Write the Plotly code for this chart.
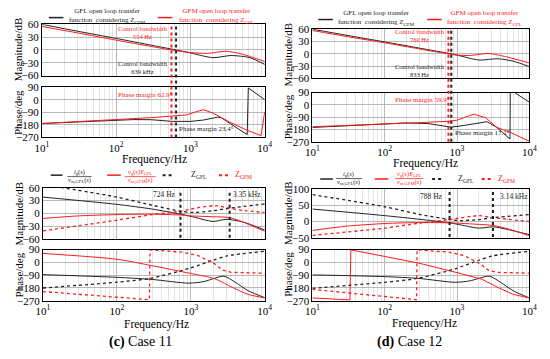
import plotly.graph_objects as go

W, H = 550, 359
FONT = "Liberation Serif"
BLACK = "#222222"
RED = "#ff1a1a"
MAJ = "#a8a8a8"
MIN = "#d2d2d2"

# ---------------- data ----------------
# (a) magnitude
a_gfl_mag_f = [10, 30, 100, 300, 639, 1000, 2000, 3500, 6300, 10000]
a_gfl_mag = [60, 44, 27, 11, 0, -7, -18, -13, -18, -34]
a_gfm_mag_f = [10, 30, 100, 300, 554, 1000, 1700, 3000, 5000, 10000]
a_gfm_mag = [55, 40, 23, 8, 0, -6, -8, -3, -10, -27]
# (a) phase
a_gfl_ph_f = [10, 30, 100, 170, 300, 567, 1000, 1500, 2300, 2600, 3500, 4500, 5800, 6000, 10000]
a_gfl_ph = [-170, -160, -148, -142, -143, -155, -155, -145, -125, -128, -174, -215, -250, 85, 0]
a_gfm_ph_f = [10, 100, 300, 554, 900, 1200, 1500, 2000, 2550, 3500, 5700, 8900, 10000]
a_gfm_ph = [-170, -143, -128, -117, -108, -85, -72, -95, -128, -165, -217, -257, -85]
a_bw = [554, 639]

# (b) magnitude
b_gfl_mag_f = [10, 30, 100, 300, 833, 1000, 2000, 3700, 6000, 10000]
b_gfl_mag = [60, 45, 29, 14, 0, -3, -15, -12, -18, -31]
b_gfm_mag_f = [10, 30, 100, 300, 760, 1000, 1500, 2700, 4000, 10000]
b_gfm_mag = [57, 42, 27, 12, 0, -3, -4, 1, -4, -22]
# (b) phase
b_gfl_ph_f = [10, 30, 100, 200, 400, 833, 1200, 2600, 3550, 5400, 5450, 10000]
b_gfl_ph = [-165, -152, -138, -132, -137, -163, -152, -123, -165, -250, 110, 20]
b_gfm_ph_f = [10, 100, 300, 760, 1000, 1300, 1700, 2500, 3550, 5400, 10000]
b_gfm_ph = [-160, -142, -130, -120, -112, -90, -68, -95, -165, -200, -266]
b_bw = [760, 833]

# (c) magnitude
c_il_mag_f = [10, 100, 300, 724, 1000, 2000, 3000, 5000, 10000]
c_il_mag = [38, 21, 10, -2, -7, -19, -14, -20, -39]
c_vg_mag_f = [10, 30, 100, 300, 724, 1000, 2000, 3350, 5000, 10000]
c_vg_mag = [-12, -6, -3, -2, -4, -6, -8, -10, -20, -42]
c_zgfl_mag_f = [10, 100, 300, 724, 1100, 2000, 3350, 10000]
c_zgfl_mag = [68, 38, 19, 5, 2, 6, 12, 22]
c_zgfm_mag_f = [10, 100, 300, 724, 1000, 2100, 3350, 5000, 10000]
c_zgfm_mag = [-41, -16, -3, 5, 10, 18, 12, 7, 2]
# (c) phase
c_il_ph_f = [10, 100, 300, 940, 1500, 2800, 4000, 6000, 10000]
c_il_ph = [-86, -105, -120, -146, -135, -97, -140, -200, -248]
c_vg_ph_f = [10, 100, 290, 1000, 2100, 3800, 6000, 10000]
c_vg_ph = [63, 22, -22, -78, -115, -180, -225, -250]
c_zgfl_ph_f = [10, 100, 280, 940, 2000, 3100, 10000]
c_zgfl_ph = [-180, -139, -113, -43, 15, 46, 78]
c_zgfm_ph_f = [10, 100, 275, 280, 760, 1250, 2100, 2700, 3500, 10000]
c_zgfm_ph = [-205, -245, -262, 88, 72, 48, -10, -55, -70, -76]
c_cross = [724, 3350]

# (d) magnitude
d_il_mag_f = [10, 100, 300, 788, 1000, 2000, 3140, 5000, 10000]
d_il_mag = [38, 18, 7, -4, -8, -20, -16, -24, -40]
d_vg_mag_f = [10, 30, 100, 300, 788, 1500, 3140, 5000, 10000]
d_vg_mag = [-27, -14, -6, -3, -4, -7, -12, -22, -43]
d_zgfl_mag_f = [10, 100, 300, 788, 1100, 2000, 3140, 10000]
d_zgfl_mag = [82, 45, 22, 6, 3, 6, 12, 21]
d_zgfm_mag_f = [10, 100, 300, 788, 2000, 3140, 5000, 10000]
d_zgfm_mag = [-42, -20, -5, 6, 18, 12, 7, 0]
# (d) phase
d_il_ph_f = [10, 100, 300, 940, 1500, 2800, 4000, 6000, 10000]
d_il_ph = [-88, -100, -113, -140, -130, -97, -140, -200, -250]
d_vg_ph_f = [10, 33, 34, 100, 295, 1000, 2200, 3800, 6000, 10000]
d_vg_ph = [-250, -264, 88, 42, -5, -72, -118, -180, -225, -250]
d_zgfl_ph_f = [10, 100, 280, 940, 2000, 3100, 10000]
d_zgfl_ph = [-182, -140, -113, -45, 15, 46, 78]
d_zgfm_ph_f = [10, 100, 275, 280, 760, 1250, 2100, 2700, 3500, 10000]
d_zgfm_ph = [-190, -237, -262, 88, 72, 48, -10, -55, -70, -76]
d_cross = [788, 3140]

x_tickvals = [10, 100, 1000, 10000]
x_ticktext = ["10<sup>1</sup>", "10<sup>2</sup>", "10<sup>3</sup>", "10<sup>4</sup>"]
mag_ticks_60 = [-60, -30, 0, 30, 60]
mag_ticks_100 = [-50, 0, 50, 100]
phase_ticks = [-270, -180, -90, 0, 90]

# ---------------- layout helpers ----------------
def px(x):
    return x / W

def py(y):
    return 1 - y / H

minor_vals = [k * 10 ** n for n in range(1, 4) for k in range(2, 10)]

def xcfg(x0, x1, show, anchor):
    return dict(domain=[px(x0), px(x1)], type="log", range=[1, 4], anchor=anchor,
                tickmode="array", tickvals=x_tickvals, ticktext=x_ticktext,
                showticklabels=show, ticks="", showgrid=True, gridcolor=MAJ, gridwidth=0.8,
                minor=dict(tickmode="array", tickvals=minor_vals, showgrid=True,
                           gridcolor=MIN, gridwidth=0.6, ticks=""),
                showline=True, linecolor="black", linewidth=1, mirror=True, zeroline=False,
                tickfont=dict(family=FONT, size=11, color="black"))

def ycfg(top, bot, rng, ticks, anchor):
    return dict(domain=[py(bot), py(top)], range=rng, anchor=anchor,
                tickmode="array", tickvals=ticks, ticks="", showgrid=True,
                gridcolor=MAJ, gridwidth=0.8, zeroline=False,
                showline=True, linecolor="black", linewidth=1, mirror=True,
                tickfont=dict(family=FONT, size=11, color="black"))

fig = go.Figure()

def line(ax, f, v, color, dash="solid", width=1.0, shape="spline"):
    fig.add_trace(go.Scatter(x=f, y=v, mode="lines", xaxis="x" + ax, yaxis="y" + ax,
                             line=dict(color=color, width=width, dash=dash, shape=shape,
                                       smoothing=0.7),
                             showlegend=False, hoverinfo="skip"))

# (a)
line("", a_gfl_mag_f, a_gfl_mag, BLACK)
line("", a_gfm_mag_f, a_gfm_mag, RED)
line("2", a_gfl_ph_f, a_gfl_ph, BLACK, shape="linear")
line("2", a_gfm_ph_f, a_gfm_ph, RED, shape="linear")
# (b)
line("3", b_gfl_mag_f, b_gfl_mag, BLACK)
line("3", b_gfm_mag_f, b_gfm_mag, RED)
line("4", b_gfl_ph_f, b_gfl_ph, BLACK, shape="linear")
line("4", b_gfm_ph_f, b_gfm_ph, RED, shape="linear")
# (c)
line("5", c_il_mag_f, c_il_mag, BLACK)
line("5", c_vg_mag_f, c_vg_mag, RED)
line("5", c_zgfl_mag_f, c_zgfl_mag, BLACK, "dot", 1.3)
line("5", c_zgfm_mag_f, c_zgfm_mag, RED, "dot", 1.3)
line("6", c_il_ph_f, c_il_ph, BLACK)
line("6", c_vg_ph_f, c_vg_ph, RED)
line("6", c_zgfl_ph_f, c_zgfl_ph, BLACK, "dot", 1.3)
line("6", c_zgfm_ph_f, c_zgfm_ph, RED, "dot", 1.3, shape="linear")
for fc in c_cross:
    line("5", [fc, fc], [-57, 55], BLACK, "dot", 2, shape="linear")
# (d)
line("7", d_il_mag_f, d_il_mag, BLACK)
line("7", d_vg_mag_f, d_vg_mag, RED)
line("7", d_zgfl_mag_f, d_zgfl_mag, BLACK, "dot", 1.3)
line("7", d_zgfm_mag_f, d_zgfm_mag, RED, "dot", 1.3)
line("8", d_il_ph_f, d_il_ph, BLACK)
line("8", d_vg_ph_f, d_vg_ph, RED, shape="linear")
line("8", d_zgfl_ph_f, d_zgfl_ph, BLACK, "dot", 1.3)
line("8", d_zgfm_ph_f, d_zgfm_ph, RED, "dot", 1.3, shape="linear")
for fc in d_cross:
    line("7", [fc, fc], [-47, 92], BLACK, "dot", 2, shape="linear")

shapes = []
# bandwidth markers across mag+phase panels in (a) and (b)
for fv, col in zip(a_bw, [RED, BLACK]):
    shapes.append(dict(type="line", xref="x", yref="paper", x0=fv, x1=fv,
                       y0=py(136), y1=py(19), line=dict(color=col, width=2, dash="dot")))
for fv, col in zip(b_bw, [RED, BLACK]):
    shapes.append(dict(type="line", xref="x3", yref="paper", x0=fv, x1=fv,
                       y0=py(140.5), y1=py(24), line=dict(color=col, width=2, dash="dot")))

def lseg(x0, x1, y, col, dash="solid", width=1.5):
    shapes.append(dict(type="line", xref="paper", yref="paper", x0=px(x0), x1=px(x1),
                       y0=py(y), y1=py(y), line=dict(color=col, width=width, dash=dash)))

# top legends
lseg(43, 58, 12, BLACK)
lseg(155, 170, 12, RED)
lseg(320, 335, 14, BLACK)
lseg(432, 447, 14, RED)
# bottom legends
lseg(45, 57, 175, BLACK)
lseg(103, 117, 175, RED)
lseg(160, 172, 175, BLACK, "dot", 2)
lseg(218, 228, 175, RED, "dot", 2)
lseg(62, 87, 176.5, BLACK, width=0.7)
lseg(121, 153, 176.5, RED, width=0.7)
lseg(322, 335, 179, BLACK)
lseg(378, 392, 179, RED)
lseg(437, 447, 179, BLACK, "dot", 2)
lseg(488, 498, 179, RED, "dot", 2)
lseg(338, 365, 178.5, BLACK, width=0.7)
lseg(399, 428, 178.5, RED, width=0.7)

anns = []

def ann(text, x, y, col="black", size=7, xa="left", ya="middle", angle=0):
    anns.append(dict(text=text, x=px(x), y=py(y), xref="paper", yref="paper",
                     xanchor=xa, yanchor=ya, showarrow=False, textangle=angle,
                     font=dict(family=FONT, size=size, color=col)))

# top legend texts
ann("GFL open loop transfer<br>function  considering Z<sub>GFM</sub>", 62, 10.5, BLACK, 7)
ann("GFM open loop transfer<br>function  considering Z<sub>GFL</sub>", 175, 10.5, RED, 7)
ann("GFL open loop transfer<br>function  considering Z<sub>GFM</sub>", 338, 12, BLACK, 7)
ann("GFM open loop transfer<br>function  considering Z<sub>GFL</sub>", 450, 12, RED, 7)

# (a) notes
ann("Control bandwidth<br>554 Hz", 112, 27, RED, 6.5)
ann("Control bandwidth<br>639 kHz", 112, 63.5, BLACK, 6.5)
ann("Phase margin 62.9°", 112, 92, RED)
ann("Phase margin 23.4°", 175, 127, BLACK)
# (b) notes
ann("Control bandwidth<br>760 Hz", 397, 31, RED, 6.5)
ann("Control bandwidth<br>833 Hz", 397, 67, BLACK, 6.5)
ann("Phase margin 59.9°", 397, 97, RED)
ann("Phase margin 17.1°", 459, 131, BLACK)
# (c),(d) notes
ann("724 Hz", 148, 195, BLACK, 7.5)
ann("3.35 kHz", 230, 195, BLACK, 7.5)
ann("788 Hz", 423, 197, BLACK, 7.5)
ann("3.14 kHz", 505, 197, BLACK, 7.5)

# bottom legend texts (fractions)
ann("<i>i</i><sub>g</sub>(<i>s</i>)", 74.5, 172, BLACK, 6.5, xa="center")
ann("<i>v</i><sub>m,GFL</sub>(<i>s</i>)", 74.5, 181, BLACK, 6.5, xa="center")
ann("<i>v</i><sub>g</sub>(<i>s</i>)<i>Y</i><sub>GFL</sub>", 137, 172, RED, 6.5, xa="center")
ann("<i>v</i><sub>m,GFM</sub>(<i>s</i>)", 137, 181, RED, 6.5, xa="center")
ann("Z<sub>GFL</sub>", 187, 175, BLACK, 8)
ann("Z<sub>GFM</sub>", 232, 175, RED, 8)
ann("<i>i</i><sub>g</sub>(<i>s</i>)", 351.5, 174, BLACK, 6.5, xa="center")
ann("<i>v</i><sub>m,GFL</sub>(<i>s</i>)", 351.5, 183, BLACK, 6.5, xa="center")
ann("<i>v</i><sub>g</sub>(<i>s</i>)<i>Y</i><sub>GFL</sub>", 413.5, 174, RED, 6.5, xa="center")
ann("<i>v</i><sub>m,GFM</sub>(<i>s</i>)", 413.5, 183, RED, 6.5, xa="center")
ann("Z<sub>GFL</sub>", 462, 179, BLACK, 8)
ann("Z<sub>GFM</sub>", 503, 179, RED, 8)

# axis titles
for (x, y, t) in [(12, 45, "Magnitude/dB"), (12, 110, "Phase/deg"),
                  (289, 50, "Magnitude/dB"), (289, 115, "Phase/deg"),
                  (12, 215, "Magnitude/dB"), (12, 278, "Phase/deg"),
                  (289, 214, "Magnitude/dB"), (289, 278, "Phase/deg")]:
    ann(t, x, y, "black", 11, xa="center", angle=-90)
for (x, y) in [(152, 159), (430, 163), (154, 330), (429, 328)]:
    ann("Frequency/Hz", x, y, "black", 11.5, xa="center")

ann("<b>(c)</b> Case 11", 137, 348, "black", 14, xa="center")
ann("<b>(d)</b> Case 12", 414, 348, "black", 14, xa="center")

fig.update_layout(
    width=W, height=H, margin=dict(l=0, r=0, t=0, b=0),
    paper_bgcolor="white", plot_bgcolor="white", showlegend=False,
    font=dict(family=FONT, color="black"),
    xaxis=xcfg(36, 265, False, "y"), yaxis=ycfg(19, 72, [-60, 60], mag_ticks_60, "x"),
    xaxis2=xcfg(36, 265, True, "y2"), yaxis2=ycfg(84, 136, [-270, 90], phase_ticks, "x2"),
    xaxis3=xcfg(314, 537, False, "y3"), yaxis3=ycfg(24, 75, [-60, 60], mag_ticks_60, "x3"),
    xaxis4=xcfg(314, 537, True, "y4"), yaxis4=ycfg(89.5, 140.5, [-270, 90], phase_ticks, "x4"),
    xaxis5=xcfg(37, 265, False, "y5"), yaxis5=ycfg(188, 241, [-60, 60], mag_ticks_60, "x5"),
    xaxis6=xcfg(37, 265, True, "y6"), yaxis6=ycfg(252, 305, [-270, 90], phase_ticks, "x6"),
    xaxis7=xcfg(314, 537, False, "y7"), yaxis7=ycfg(189, 240, [-50, 100], mag_ticks_100, "x7"),
    xaxis8=xcfg(314, 537, True, "y8"), yaxis8=ycfg(252, 305, [-270, 90], phase_ticks, "x8"),
    shapes=shapes, annotations=anns,
)

fig.write_html("out.html", config={"displayModeBar": False, "staticPlot": True},
               post_script="document.body.style.margin='0';document.body.style.overflow='hidden';")
